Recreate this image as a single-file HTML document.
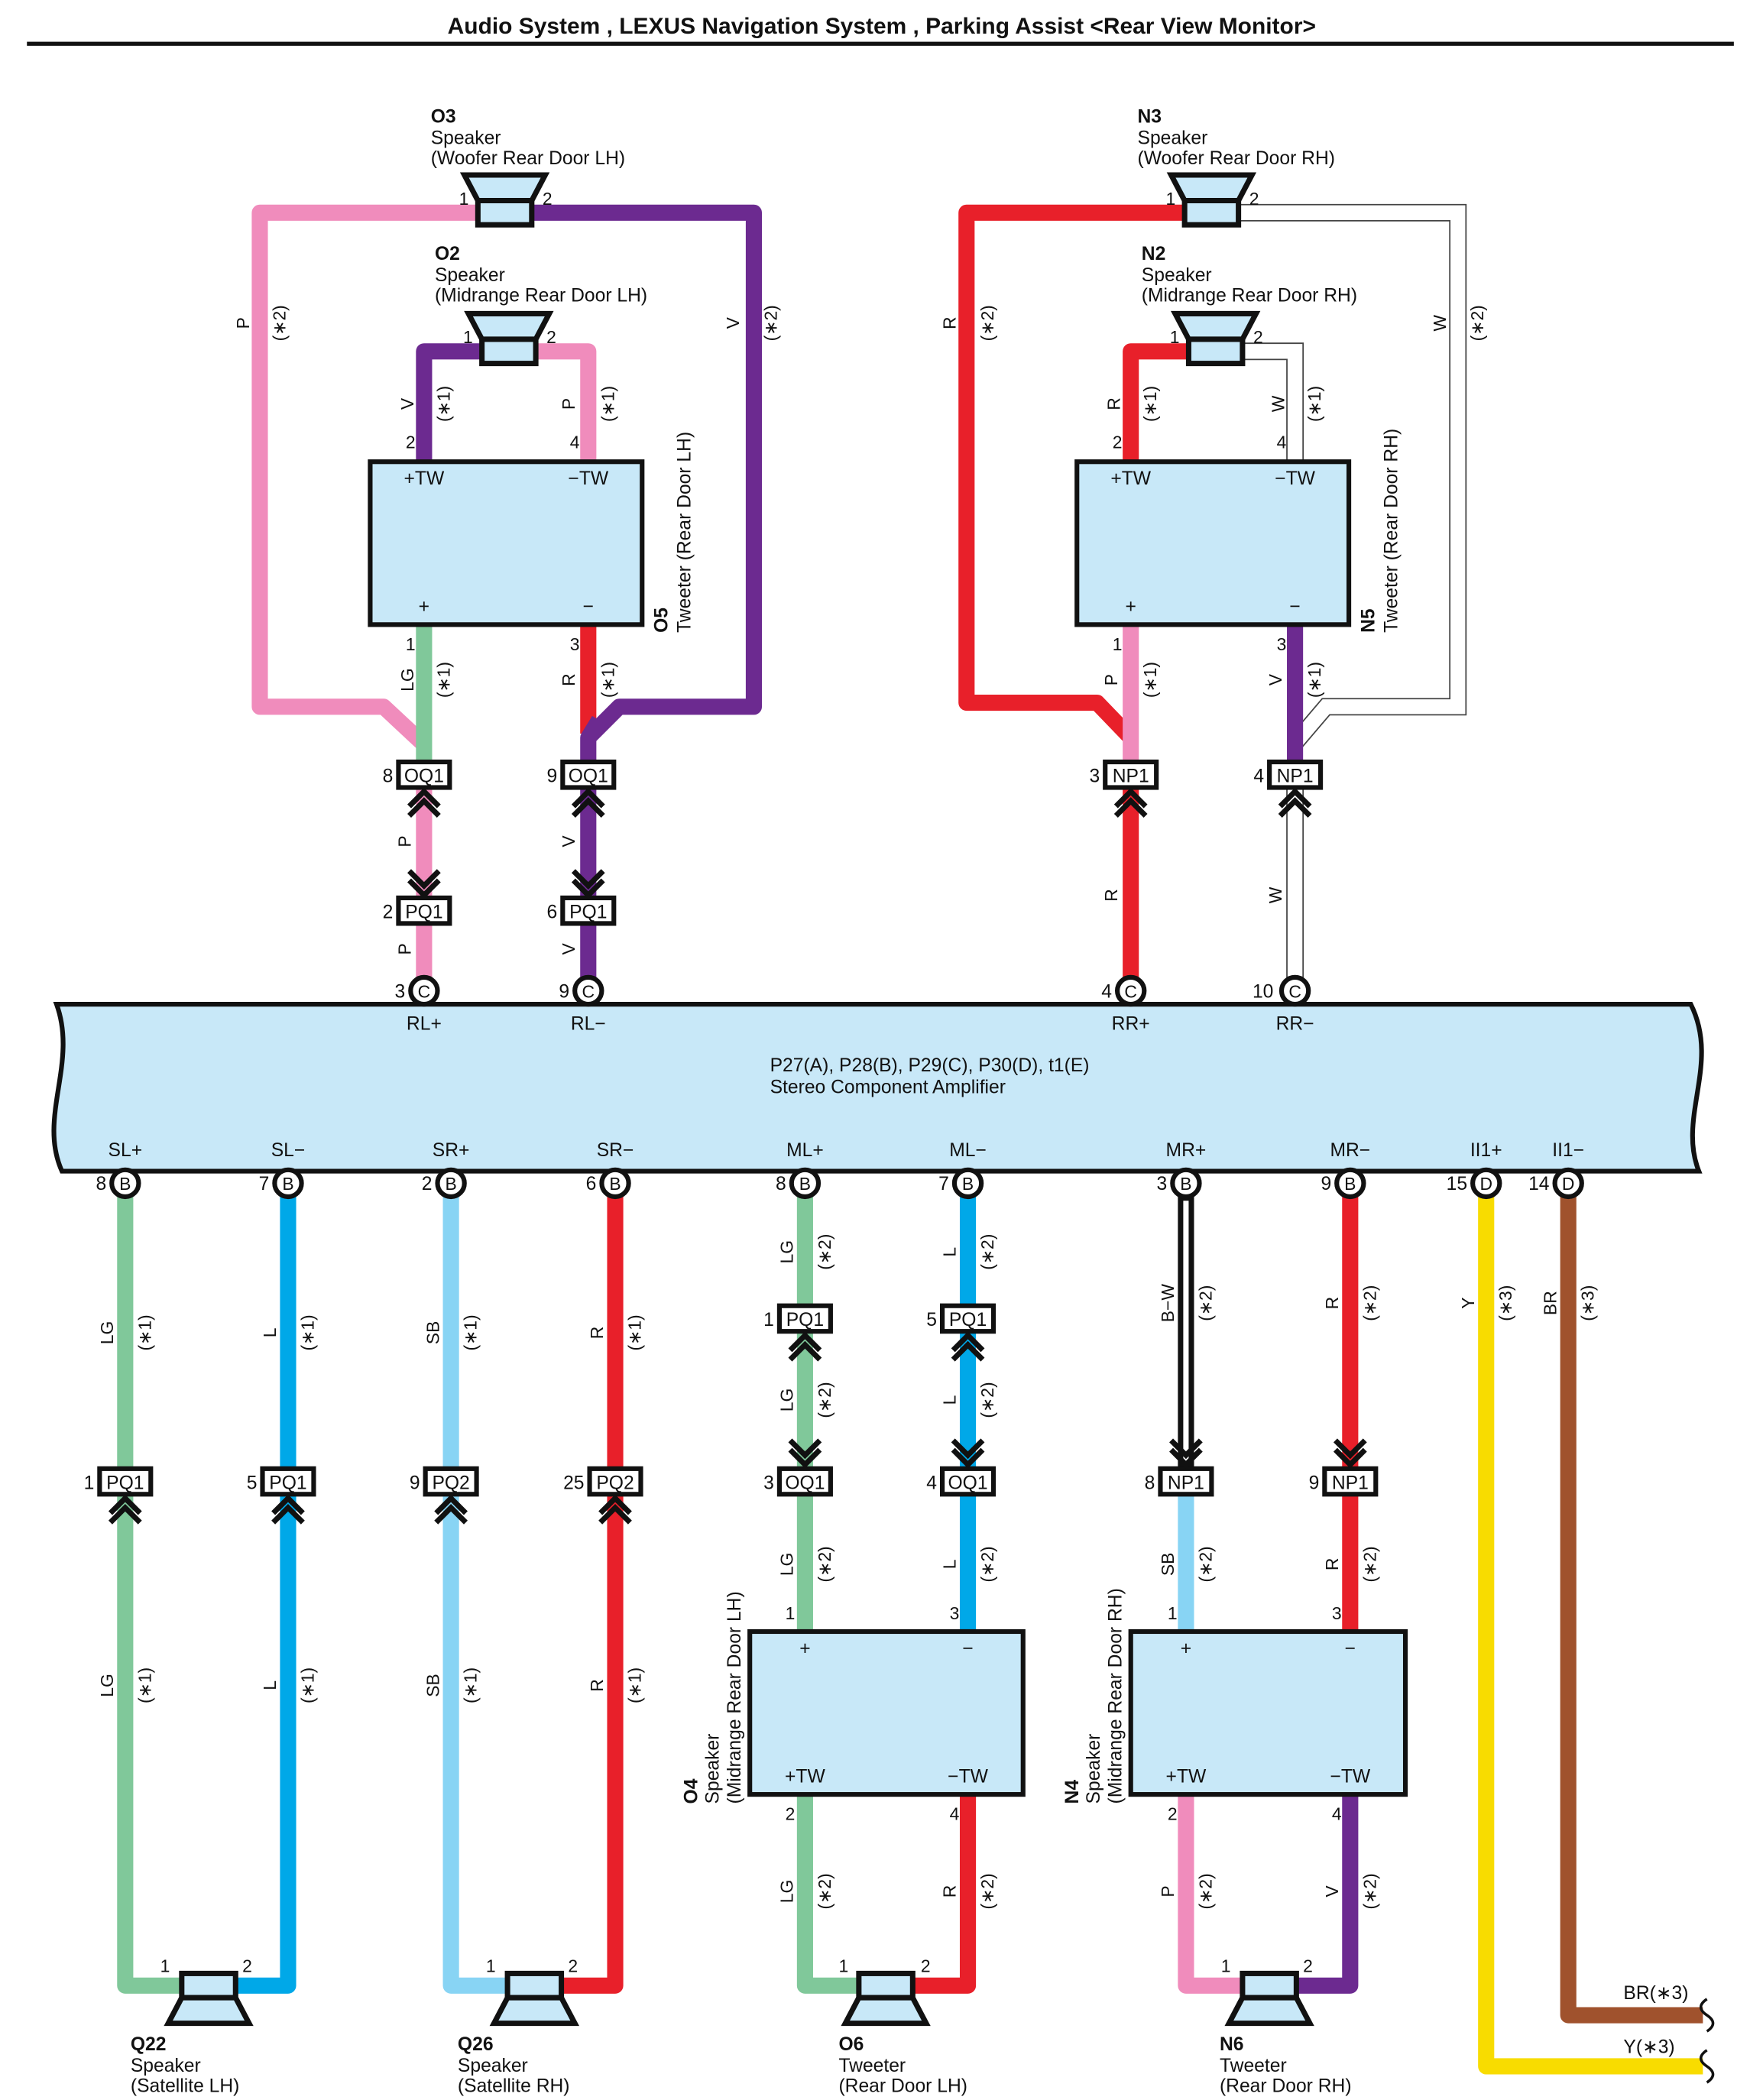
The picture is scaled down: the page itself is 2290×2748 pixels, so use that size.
<!DOCTYPE html>
<html><head><meta charset="utf-8">
<style>
html,body{margin:0;padding:0;background:#fff;}
svg{display:block;}
text{font-family:"Liberation Sans",Arial,sans-serif;fill:#111;}
</style></head>
<body>
<svg width="2290" height="2748" viewBox="0 0 1300 1560" xmlns="http://www.w3.org/2000/svg">
<defs>
<style>
.w{fill:none;stroke-width:12;stroke-linejoin:round;}
.p{stroke:#f08cbc}.v{stroke:#6c2a90}.lg{stroke:#80c89a}.r{stroke:#e8202a}.l{stroke:#00a8e8}.sb{stroke:#88d4f4}.y{stroke:#f8dc00}.br{stroke:#a0522d}
.wo{fill:none;stroke:#444;stroke-width:13;stroke-linejoin:miter;}
.wi{fill:none;stroke:#fff;stroke-width:11;stroke-linejoin:miter;}
.box{fill:#c8e8f8;stroke:#111;stroke-width:3.5;}
.spk{fill:#c8e8f8;stroke:#111;stroke-width:4;stroke-linejoin:miter;}
.cn{fill:#fff;stroke:#111;stroke-width:3.5;}
.ch{fill:none;stroke:#111;stroke-width:4;}
.t13{font-size:13px;}
.t14{font-size:14px;}
.b{font-weight:bold;}
</style>
</defs>

<!-- Title -->
<text x="655" y="25" text-anchor="middle" class="b" font-size="17">Audio System , LEXUS Navigation System , Parking Assist &lt;Rear View Monitor&gt;</text>
<rect x="20" y="31" width="1268" height="3" fill="#111"/>

<!-- ===== TOP LEFT wires ===== -->
<path class="w p" d="M355 158 H193 V525 H285 L315 553"/>
<path class="w v" d="M395 158 H560 V525 H460 L437 548"/>
<path class="w v" d="M360 261 H315 V343"/>
<path class="w p" d="M398 261 H437 V343"/>
<path class="w lg" d="M315 464 V566"/>
<path class="w r" d="M437 464 V545"/>
<path class="w v" d="M445 535 L437 548 V566"/>
<path class="w p" d="M315 584 V726"/>
<path class="w v" d="M437 584 V726"/>

<!-- ===== TOP RIGHT wires ===== -->
<path class="w r" d="M880 158 H718 V522 H815 L840 548"/>
<path class="wo" d="M920 158 H1083 V525 H985 L962 552"/>
<path class="wi" d="M920 158 H1083 V525 H985 L962 552"/>
<path class="w r" d="M885 261 H840 V343"/>
<path class="wo" d="M920 261 H962 V343"/>
<path class="wi" d="M920 261 H962 V343"/>
<path class="w p" d="M840 464 V566"/>
<path class="w v" d="M962 464 V566"/>
<path class="w r" d="M840 584 V726"/>
<path class="wo" d="M962 584 V726"/>
<path class="wi" d="M962 584 V726"/>

<!-- Top boxes -->
<rect class="box" x="275" y="343" width="202" height="121"/>
<rect class="box" x="800" y="343" width="202" height="121"/>
<g class="t14">
<text x="315" y="360" text-anchor="middle">+TW</text><text x="437" y="360" text-anchor="middle">−TW</text>
<text x="315" y="455" text-anchor="middle">+</text><text x="437" y="455" text-anchor="middle">−</text>
<text x="840" y="360" text-anchor="middle">+TW</text><text x="962" y="360" text-anchor="middle">−TW</text>
<text x="840" y="455" text-anchor="middle">+</text><text x="962" y="455" text-anchor="middle">−</text>
</g>
<g class="t13" text-anchor="middle">
<text x="305" y="333">2</text><text x="427" y="333">4</text><text x="305" y="483">1</text><text x="427" y="483">3</text>
<text x="830" y="333">2</text><text x="952" y="333">4</text><text x="830" y="483">1</text><text x="952" y="483">3</text>
</g>
<text class="t14 b" transform="translate(496,470) rotate(-90)">O5</text>
<text class="t14" transform="translate(513,470) rotate(-90)">Tweeter (Rear Door LH)</text>
<text class="t14 b" transform="translate(1021,470) rotate(-90)">N5</text>
<text class="t14" transform="translate(1038,470) rotate(-90)">Tweeter (Rear Door RH)</text>

<!-- Top speakers (open upward) -->
<g class="spk">
<rect x="355" y="149" width="40" height="18"/><polygon points="355,149 345,130 405,130 395,149"/>
<rect x="358" y="252" width="40" height="18"/><polygon points="358,252 348,233 408,233 398,252"/>
<rect x="880" y="149" width="40" height="18"/><polygon points="880,149 870,130 930,130 920,149"/>
<rect x="883" y="252" width="40" height="18"/><polygon points="883,252 873,233 933,233 923,252"/>
</g>
<g class="t13">
<text x="341" y="152">1</text><text x="403" y="152">2</text>
<text x="344" y="255">1</text><text x="406" y="255">2</text>
<text x="866" y="152">1</text><text x="928" y="152">2</text>
<text x="869" y="255">1</text><text x="931" y="255">2</text>
</g>
<g class="t14">
<text x="320" y="91" class="b">O3</text><text x="320" y="107">Speaker</text><text x="320" y="122">(Woofer Rear Door LH)</text>
<text x="323" y="193" class="b">O2</text><text x="323" y="209">Speaker</text><text x="323" y="224">(Midrange Rear Door LH)</text>
<text x="845" y="91" class="b">N3</text><text x="845" y="107">Speaker</text><text x="845" y="122">(Woofer Rear Door RH)</text>
<text x="848" y="193" class="b">N2</text><text x="848" y="209">Speaker</text><text x="848" y="224">(Midrange Rear Door RH)</text>
</g>

<!-- Top connectors -->
<g class="cn">
<rect x="296" y="566" width="38" height="19"/><rect x="418" y="566" width="38" height="19"/>
<rect x="296" y="667" width="38" height="19"/><rect x="418" y="667" width="38" height="19"/>
<rect x="821" y="566" width="38" height="19"/><rect x="943" y="566" width="38" height="19"/>
</g>
<g class="t14" text-anchor="middle">
<text x="315" y="581">OQ1</text><text x="437" y="581">OQ1</text>
<text x="315" y="682">PQ1</text><text x="437" y="682">PQ1</text>
<text x="840" y="581">NP1</text><text x="962" y="581">NP1</text>
</g>
<g class="t14" text-anchor="end">
<text x="292" y="581">8</text><text x="414" y="581">9</text><text x="292" y="682">2</text><text x="414" y="682">6</text>
<text x="817" y="581">3</text><text x="939" y="581">4</text>
</g>
<!-- chevrons up under top connectors -->
<g class="ch">
<path d="M304 599 L315 588 L326 599 M304 606 L315 595 L326 606"/>
<path d="M426 599 L437 588 L448 599 M426 606 L437 595 L448 606"/>
<path d="M829 599 L840 588 L851 599 M829 606 L840 595 L851 606"/>
<path d="M951 599 L962 588 L973 599 M951 606 L962 595 L973 606"/>
<path d="M304 647 L315 658 L326 647 M304 654 L315 665 L326 654"/>
<path d="M426 647 L437 658 L448 647 M426 654 L437 665 L448 654"/>
</g>

<!-- Amplifier -->
<path class="box" d="M42 746 H1256 C1278 790 1246 830 1262 870 H46 C28 830 58 790 42 746 Z"/>
<text x="572" y="796" class="t14">P27(A), P28(B), P29(C), P30(D), t1(E)</text>
<text x="572" y="812" class="t14">Stereo Component Amplifier</text>
<g class="t14" text-anchor="middle">
<text x="315" y="765">RL+</text><text x="437" y="765">RL−</text><text x="840" y="765">RR+</text><text x="962" y="765">RR−</text>
<text x="93" y="859">SL+</text><text x="214" y="859">SL−</text><text x="335" y="859">SR+</text><text x="457" y="859">SR−</text>
<text x="598" y="859">ML+</text><text x="719" y="859">ML−</text><text x="881" y="859">MR+</text><text x="1003" y="859">MR−</text>
<text x="1104" y="859">II1+</text><text x="1165" y="859">II1−</text>
</g>

<!-- ===== BOTTOM wires ===== -->
<path class="w lg" d="M93 889 V1475 H140"/>
<path class="w l" d="M214 889 V1475 H170"/>
<path class="w sb" d="M335 889 V1475 H380"/>
<path class="w r" d="M457 889 V1475 H415"/>
<path class="w lg" d="M598 889 V1212"/>
<path class="w l" d="M719 889 V1212"/>
<path class="w lg" d="M598 1333 V1475 H640"/>
<path class="w r" d="M719 1333 V1475 H675"/>
<path fill="none" stroke="#111" stroke-width="12" d="M881 889 V1090"/>
<path fill="none" stroke="#fff" stroke-width="4" d="M881 892 V1088"/>
<path class="w sb" d="M881 1110 V1212"/>
<path class="w r" d="M1003 889 V1212"/>
<path class="w p" d="M881 1333 V1475 H925"/>
<path class="w v" d="M1003 1333 V1475 H960"/>
<path class="w y" d="M1104 889 V1535 H1265"/>
<path class="w br" d="M1165 889 V1497 H1265"/>
<path fill="none" stroke="#111" stroke-width="2" d="M1268 1485 c-6 4 -6 8 0 12 c6 4 6 8 0 12 M1268 1523 c-6 4 -6 8 0 12 c6 4 6 8 0 12"/>
<text x="1206" y="1485" class="t14">BR(∗3)</text>
<text x="1206" y="1525" class="t14">Y(∗3)</text>

<!-- amp circles -->
<g class="cn">
<circle cx="315" cy="736" r="10"/><circle cx="437" cy="736" r="10"/><circle cx="840" cy="736" r="10"/><circle cx="962" cy="736" r="10"/>
<circle cx="93" cy="879" r="10"/><circle cx="214" cy="879" r="10"/><circle cx="335" cy="879" r="10"/><circle cx="457" cy="879" r="10"/>
<circle cx="598" cy="879" r="10"/><circle cx="719" cy="879" r="10"/><circle cx="881" cy="879" r="10"/><circle cx="1003" cy="879" r="10"/>
<circle cx="1104" cy="879" r="10"/><circle cx="1165" cy="879" r="10"/>
</g>
<g class="t13" text-anchor="middle">
<text x="315" y="741">C</text><text x="437" y="741">C</text><text x="840" y="741">C</text><text x="962" y="741">C</text>
<text x="93" y="884">B</text><text x="214" y="884">B</text><text x="335" y="884">B</text><text x="457" y="884">B</text>
<text x="598" y="884">B</text><text x="719" y="884">B</text><text x="881" y="884">B</text><text x="1003" y="884">B</text>
<text x="1104" y="884">D</text><text x="1165" y="884">D</text>
</g>
<g class="t14" text-anchor="end">
<text x="301" y="741">3</text><text x="423" y="741">9</text><text x="826" y="741">4</text><text x="946" y="741">10</text>
<text x="79" y="884">8</text><text x="200" y="884">7</text><text x="321" y="884">2</text><text x="443" y="884">6</text>
<text x="584" y="884">8</text><text x="705" y="884">7</text><text x="867" y="884">3</text><text x="989" y="884">9</text>
<text x="1090" y="884">15</text><text x="1151" y="884">14</text>
</g>

<!-- bottom connectors -->
<g class="cn">
<rect x="74" y="1091" width="38" height="19"/><rect x="195" y="1091" width="38" height="19"/>
<rect x="316" y="1091" width="38" height="19"/><rect x="438" y="1091" width="38" height="19"/>
<rect x="579" y="970" width="38" height="19"/><rect x="700" y="970" width="38" height="19"/>
<rect x="579" y="1091" width="38" height="19"/><rect x="700" y="1091" width="38" height="19"/>
<rect x="862" y="1091" width="38" height="19"/><rect x="984" y="1091" width="38" height="19"/>
</g>
<g class="t14" text-anchor="middle">
<text x="93" y="1106">PQ1</text><text x="214" y="1106">PQ1</text><text x="335" y="1106">PQ2</text><text x="457" y="1106">PQ2</text>
<text x="598" y="985">PQ1</text><text x="719" y="985">PQ1</text><text x="598" y="1106">OQ1</text><text x="719" y="1106">OQ1</text>
<text x="881" y="1106">NP1</text><text x="1003" y="1106">NP1</text>
</g>
<g class="t14" text-anchor="end">
<text x="70" y="1106">1</text><text x="191" y="1106">5</text><text x="312" y="1106">9</text><text x="434" y="1106">25</text>
<text x="575" y="985">1</text><text x="696" y="985">5</text><text x="575" y="1106">3</text><text x="696" y="1106">4</text>
<text x="858" y="1106">8</text><text x="980" y="1106">9</text>
</g>
<g class="ch">
<path d="M82 1124 L93 1113 L104 1124 M82 1131 L93 1120 L104 1131"/>
<path d="M203 1124 L214 1113 L225 1124 M203 1131 L214 1120 L225 1131"/>
<path d="M324 1124 L335 1113 L346 1124 M324 1131 L335 1120 L346 1131"/>
<path d="M446 1124 L457 1113 L468 1124 M446 1131 L457 1120 L468 1131"/>
<path d="M587 1003 L598 992 L609 1003 M587 1010 L598 999 L609 1010"/>
<path d="M708 1003 L719 992 L730 1003 M708 1010 L719 999 L730 1010"/>
<path d="M587 1070 L598 1081 L609 1070 M587 1077 L598 1088 L609 1077"/>
<path d="M708 1070 L719 1081 L730 1070 M708 1077 L719 1088 L730 1077"/>
<path d="M870 1070 L881 1081 L892 1070 M870 1077 L881 1088 L892 1077"/>
<path d="M992 1070 L1003 1081 L1014 1070 M992 1077 L1003 1088 L1014 1077"/>
</g>

<!-- bottom boxes -->
<rect class="box" x="557" y="1212" width="203" height="121"/>
<rect class="box" x="840" y="1212" width="204" height="121"/>
<g class="t14" text-anchor="middle">
<text x="598" y="1229">+</text><text x="719" y="1229">−</text><text x="598" y="1324">+TW</text><text x="719" y="1324">−TW</text>
<text x="881" y="1229">+</text><text x="1003" y="1229">−</text><text x="881" y="1324">+TW</text><text x="1003" y="1324">−TW</text>
</g>
<g class="t13" text-anchor="middle">
<text x="587" y="1203">1</text><text x="709" y="1203">3</text><text x="587" y="1352">2</text><text x="709" y="1352">4</text>
<text x="871" y="1203">1</text><text x="993" y="1203">3</text><text x="871" y="1352">2</text><text x="993" y="1352">4</text>
</g>
<text class="t14 b" transform="translate(518,1340) rotate(-90)">O4</text>
<text class="t14" transform="translate(534,1340) rotate(-90)">Speaker</text>
<text class="t14" transform="translate(550,1340) rotate(-90)">(Midrange Rear Door LH)</text>
<text class="t14 b" transform="translate(801,1340) rotate(-90)">N4</text>
<text class="t14" transform="translate(817,1340) rotate(-90)">Speaker</text>
<text class="t14" transform="translate(833,1340) rotate(-90)">(Midrange Rear Door RH)</text>

<!-- bottom speakers -->
<g class="spk">
<rect x="135" y="1466" width="40" height="18"/><polygon points="135,1484 125,1503 185,1503 175,1484"/>
<rect x="377" y="1466" width="40" height="18"/><polygon points="377,1484 367,1503 427,1503 417,1484"/>
<rect x="638" y="1466" width="40" height="18"/><polygon points="638,1484 628,1503 688,1503 678,1484"/>
<rect x="923" y="1466" width="40" height="18"/><polygon points="923,1484 913,1503 973,1503 963,1484"/>
</g>
<g class="t13">
<text x="119" y="1465">1</text><text x="180" y="1465">2</text>
<text x="361" y="1465">1</text><text x="422" y="1465">2</text>
<text x="623" y="1465">1</text><text x="684" y="1465">2</text>
<text x="907" y="1465">1</text><text x="968" y="1465">2</text>
</g>
<g class="t14">
<text x="97" y="1523" class="b">Q22</text><text x="97" y="1539">Speaker</text><text x="97" y="1554">(Satellite LH)</text>
<text x="340" y="1523" class="b">Q26</text><text x="340" y="1539">Speaker</text><text x="340" y="1554">(Satellite RH)</text>
<text x="623" y="1523" class="b">O6</text><text x="623" y="1539">Tweeter</text><text x="623" y="1554">(Rear Door LH)</text>
<text x="906" y="1523" class="b">N6</text><text x="906" y="1539">Tweeter</text><text x="906" y="1554">(Rear Door RH)</text>
</g>

<!-- wire labels -->
<g class="t13" text-anchor="middle">
<!-- top left -->
<text transform="translate(185,240) rotate(-90)">P</text><text transform="translate(212,240) rotate(-90)">(∗2)</text>
<text transform="translate(549,240) rotate(-90)">V</text><text transform="translate(577,240) rotate(-90)">(∗2)</text>
<text transform="translate(307,300) rotate(-90)">V</text><text transform="translate(334,300) rotate(-90)">(∗1)</text>
<text transform="translate(427,300) rotate(-90)">P</text><text transform="translate(456,300) rotate(-90)">(∗1)</text>
<text transform="translate(307,505) rotate(-90)">LG</text><text transform="translate(334,505) rotate(-90)">(∗1)</text>
<text transform="translate(427,505) rotate(-90)">R</text><text transform="translate(456,505) rotate(-90)">(∗1)</text>
<text transform="translate(305,625) rotate(-90)">P</text><text transform="translate(427,625) rotate(-90)">V</text>
<text transform="translate(305,705) rotate(-90)">P</text><text transform="translate(427,705) rotate(-90)">V</text>
<!-- top right -->
<text transform="translate(710,240) rotate(-90)">R</text><text transform="translate(738,240) rotate(-90)">(∗2)</text>
<text transform="translate(1074,240) rotate(-90)">W</text><text transform="translate(1102,240) rotate(-90)">(∗2)</text>
<text transform="translate(832,300) rotate(-90)">R</text><text transform="translate(859,300) rotate(-90)">(∗1)</text>
<text transform="translate(954,300) rotate(-90)">W</text><text transform="translate(981,300) rotate(-90)">(∗1)</text>
<text transform="translate(830,505) rotate(-90)">P</text><text transform="translate(859,505) rotate(-90)">(∗1)</text>
<text transform="translate(952,505) rotate(-90)">V</text><text transform="translate(981,505) rotate(-90)">(∗1)</text>
<text transform="translate(830,665) rotate(-90)">R</text><text transform="translate(952,665) rotate(-90)">W</text>
<!-- bottom satellite -->
<text transform="translate(84,990) rotate(-90)">LG</text><text transform="translate(112,990) rotate(-90)">(∗1)</text>
<text transform="translate(205,990) rotate(-90)">L</text><text transform="translate(233,990) rotate(-90)">(∗1)</text>
<text transform="translate(326,990) rotate(-90)">SB</text><text transform="translate(354,990) rotate(-90)">(∗1)</text>
<text transform="translate(448,990) rotate(-90)">R</text><text transform="translate(476,990) rotate(-90)">(∗1)</text>
<text transform="translate(84,1252) rotate(-90)">LG</text><text transform="translate(112,1252) rotate(-90)">(∗1)</text>
<text transform="translate(205,1252) rotate(-90)">L</text><text transform="translate(233,1252) rotate(-90)">(∗1)</text>
<text transform="translate(326,1252) rotate(-90)">SB</text><text transform="translate(354,1252) rotate(-90)">(∗1)</text>
<text transform="translate(448,1252) rotate(-90)">R</text><text transform="translate(476,1252) rotate(-90)">(∗1)</text>
<!-- ML -->
<text transform="translate(589,930) rotate(-90)">LG</text><text transform="translate(617,930) rotate(-90)">(∗2)</text>
<text transform="translate(710,930) rotate(-90)">L</text><text transform="translate(738,930) rotate(-90)">(∗2)</text>
<text transform="translate(589,1040) rotate(-90)">LG</text><text transform="translate(617,1040) rotate(-90)">(∗2)</text>
<text transform="translate(710,1040) rotate(-90)">L</text><text transform="translate(738,1040) rotate(-90)">(∗2)</text>
<text transform="translate(589,1162) rotate(-90)">LG</text><text transform="translate(617,1162) rotate(-90)">(∗2)</text>
<text transform="translate(710,1162) rotate(-90)">L</text><text transform="translate(738,1162) rotate(-90)">(∗2)</text>
<text transform="translate(589,1405) rotate(-90)">LG</text><text transform="translate(617,1405) rotate(-90)">(∗2)</text>
<text transform="translate(710,1405) rotate(-90)">R</text><text transform="translate(738,1405) rotate(-90)">(∗2)</text>
<!-- MR -->
<text transform="translate(872,968) rotate(-90)">B−W</text><text transform="translate(900,968) rotate(-90)">(∗2)</text>
<text transform="translate(994,968) rotate(-90)">R</text><text transform="translate(1022,968) rotate(-90)">(∗2)</text>
<text transform="translate(872,1162) rotate(-90)">SB</text><text transform="translate(900,1162) rotate(-90)">(∗2)</text>
<text transform="translate(994,1162) rotate(-90)">R</text><text transform="translate(1022,1162) rotate(-90)">(∗2)</text>
<text transform="translate(872,1405) rotate(-90)">P</text><text transform="translate(900,1405) rotate(-90)">(∗2)</text>
<text transform="translate(994,1405) rotate(-90)">V</text><text transform="translate(1022,1405) rotate(-90)">(∗2)</text>
<!-- II -->
<text transform="translate(1095,968) rotate(-90)">Y</text><text transform="translate(1123,968) rotate(-90)">(∗3)</text>
<text transform="translate(1156,968) rotate(-90)">BR</text><text transform="translate(1184,968) rotate(-90)">(∗3)</text>
</g>
</svg>
</body></html>
